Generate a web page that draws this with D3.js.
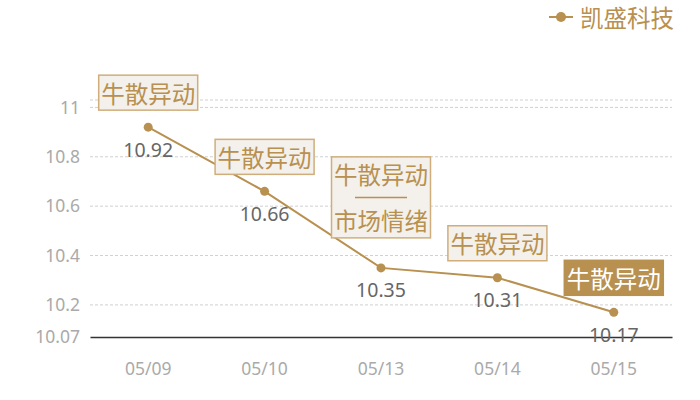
<!DOCTYPE html>
<html>
<head>
<meta charset="utf-8">
<script src="https://cdn.jsdelivr.net/npm/d3@7"></script>
<style>
  body { margin: 0; background: #fff; }
  text { font-family: "Noto Sans CJK SC", "Noto Sans", sans-serif; }
</style>
</head>
<body>
<script>
// stock close prices with event notes
dates = ["05/09", "05/10", "05/13", "05/14", "05/15"];
prices = [10.92, 10.66, 10.35, 10.31, 10.17];
notes = [["牛散异动"], ["牛散异动"], ["牛散异动", "市场情绪"], ["牛散异动"], ["牛散异动"]];
highlighted = [false, false, false, false, true];
yTicks = [10.07, 10.2, 10.4, 10.6, 10.8, 11];
yMin = 10.07;
yMax = 11.03;
seriesName = "凯盛科技";

let gold = "#b8904f";
let W = 700, H = 400;
let plotL = 90, plotR = 672, plotT = 100, plotB = 337;

let svg = d3.select("body").append("svg")
  .attr("width", W)
  .attr("height", H);

let xScale = d3.scaleBand()
  .domain(dates)
  .range([plotL, plotR]);

let yScale = d3.scaleLinear()
  .domain([yMin, yMax])
  .range([plotB, plotT]);

// grid lines (top edge too)
let gridVals = yTicks.filter(d => d != yMin).concat([yMax]);
svg.append("g").selectAll("line")
  .data(gridVals).enter().append("line")
    .attr("x1", plotL)
    .attr("x2", plotR)
    .attr("y1", d => yScale(d))
    .attr("y2", d => yScale(d))
    .attr("stroke", "#d0d0d0")
    .attr("stroke-dasharray", "3,2")
    .attr("stroke-width", 1);

// y axis labels
let yAxis = d3.axisLeft(yScale).tickValues(yTicks).tickSize(0).tickPadding(10)
  .tickFormat(d => String(d));
let yg = svg.append("g")
  .attr("transform", "translate(" + plotL + ",0)")
  .call(yAxis);
yg.select(".domain").remove();
yg.selectAll("text")
  .attr("fill", "#aaa")
  .style("font-size", "17.5px")
  .style("font-family", "'Noto Sans', sans-serif");

// x axis
let xAxis = d3.axisBottom(xScale).tickSize(0).tickPadding(26);
let xg = svg.append("g")
  .attr("transform", "translate(0," + plotB + ")")
  .call(xAxis);
xg.select(".domain").attr("stroke", "#333").attr("stroke-width", 1.3);
xg.selectAll("text")
  .attr("fill", "#aaa")
  .style("font-size", "17.5px")
  .style("font-family", "'Noto Sans', sans-serif");

let cx = d => xScale(d) + xScale.bandwidth() / 2;

// the line
let line = d3.line()
  .x((d, i) => cx(dates[i]))
  .y(d => yScale(d));

svg.append("path")
  .datum(prices)
  .attr("d", line)
  .attr("fill", "none")
  .attr("stroke", gold)
  .attr("stroke-width", 2);

svg.selectAll("circle.pt")
  .data(prices).enter().append("circle")
    .attr("class", "pt")
    .attr("cx", (d, i) => cx(dates[i]))
    .attr("cy", d => yScale(d))
    .attr("r", 4.5)
    .attr("fill", gold);

// value labels
svg.selectAll("text.val")
  .data(prices).enter().append("text")
    .attr("class", "val")
    .attr("x", (d, i) => cx(dates[i]))
    .attr("y", d => yScale(d) + 22)
    .attr("text-anchor", "middle")
    .attr("dominant-baseline", "central")
    .attr("fill", "#666")
    .style("font-size", "19.5px")
    .style("font-family", "'Noto Sans', sans-serif")
    .text(d => d.toFixed(2));

// note boxes
let lineH = 23;
notes.forEach((n, i) => {
  let px = cx(dates[i]);
  let py = yScale(prices[i]);
  let multi = n.length > 1;
  let nRows = multi ? 3 : 1;
  let boxH = multi ? nRows * lineH + 12 : 35;
  let boxW = 99;
  let gap = multi ? 30 : 17;
  let y0 = py - gap - boxH;
  let g = svg.append("g");
  g.append("rect")
    .attr("x", px - boxW / 2)
    .attr("y", y0)
    .attr("width", boxW)
    .attr("height", boxH)
    .attr("fill", highlighted[i] ? gold : "#f4f0eb")
    .attr("stroke", highlighted[i] ? gold : "#cfae7c")
    .attr("stroke-width", 1.5);
  let startY = y0 + boxH / 2 - (nRows - 1) * lineH / 2;
  n.forEach((r, j) => {
    g.append("text")
      .attr("x", px)
      .attr("y", startY + j * 2 * lineH)
      .attr("text-anchor", "middle")
      .attr("dominant-baseline", "central")
      .attr("fill", highlighted[i] ? "#fff" : gold)
      .style("font-size", "23.5px")
      .text(r);
  });
  if (multi) {
    // separator between the two notes
    g.append("line")
      .attr("x1", px - 26).attr("x2", px + 26)
      .attr("y1", startY + lineH).attr("y2", startY + lineH)
      .attr("stroke", gold)
      .attr("stroke-width", 1.5);
  }
});

// legend
let lg = svg.append("g").attr("transform", "translate(549,17)");
lg.append("line")
  .attr("x1", 0).attr("x2", 24)
  .attr("y1", 0).attr("y2", 0)
  .attr("stroke", gold)
  .attr("stroke-width", 2);
lg.append("circle")
  .attr("cx", 12).attr("cy", 0).attr("r", 5)
  .attr("fill", gold);
lg.append("text")
  .attr("x", 31)
  .attr("y", 0)
  .attr("dominant-baseline", "central")
  .attr("fill", gold)
  .style("font-size", "23.5px")
  .text(seriesName);
</script>
</body>
</html>
